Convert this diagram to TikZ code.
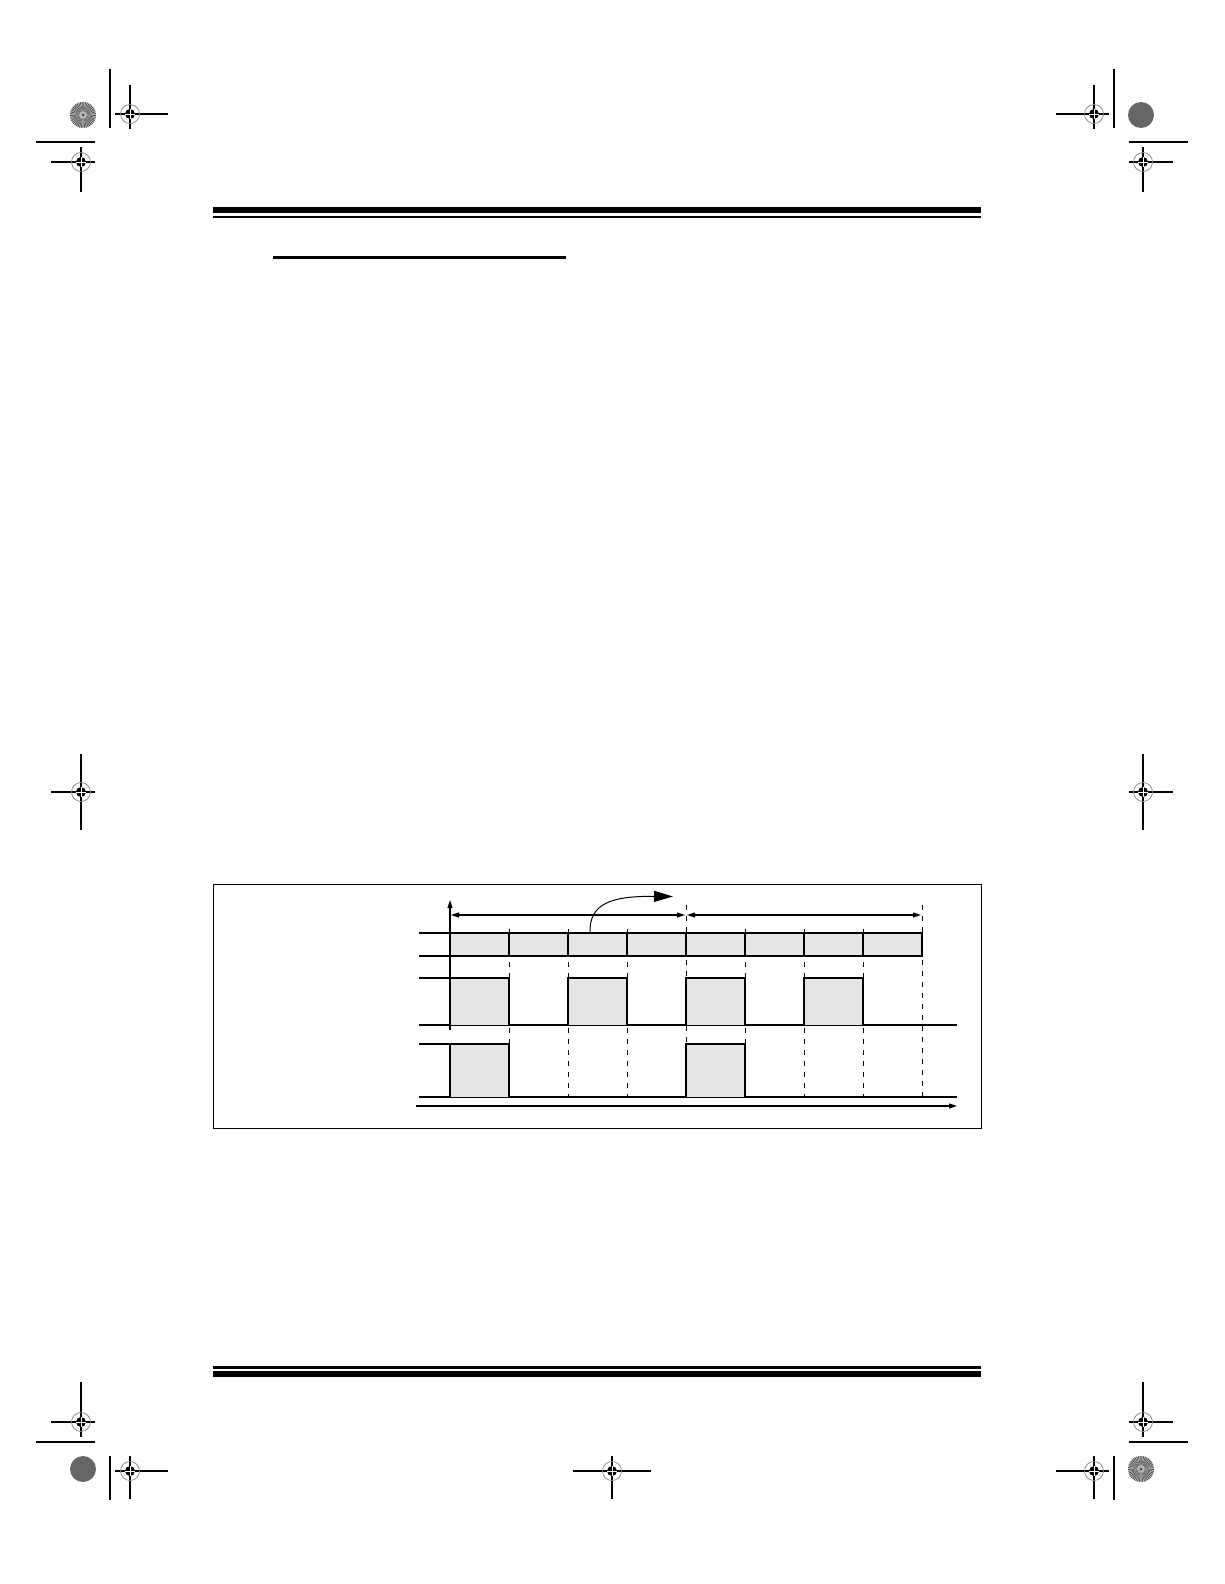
\documentclass[tikz,border=0pt]{standalone}
\usetikzlibrary{arrows.meta}
\newcommand{\regmark}[6]{%
  \draw[line width=1.2] (#1-#3,#2) -- (#1+#4,#2) (#1,#2-#5) -- (#1,#2+#6);
  \draw[gray, line width=0.7] (#1,#2) circle (9.5);
  \fill (#1,#2) circle (5);
  \draw[white, line width=0.7] (#1-5,#2) -- (#1+5,#2) (#1,#2-5) -- (#1,#2+5);
}
\newcommand{\starburst}[2]{%
  \fill[gray!35] (#1,#2) circle (13);
  \foreach \a in {0,8,...,352} \fill[black!70] (#1,#2) -- ++(\a:13) arc[start angle=\a, end angle=\a+4, radius=13] -- cycle;
  \fill[gray!60] (#1,#2) circle (4);
  \fill (#1,#2) circle (1);
}
\newcommand{\darkdisk}[2]{%
  \fill[black!60] (#1,#2) circle (13);
}
\tikzset{
  sig/.style={line width=1.1},
  pulse/.style={line width=1.1, fill=gray!20},
  guide/.style={line width=1, dash pattern=on 5 off 6},
  tick/.style={-{Triangle[length=8,width=5]}},
}
\begin{document}
\begin{tikzpicture}[x=1pt,y=-1pt]
\useasboundingbox (0,0) rectangle (1224,1584);
\fill[white] (0,0) rectangle (1224,1584);
% registration marks
\starburst{83}{115}
\regmark{130}{114}{15}{38}{29}{15}
\draw[line width=1.2] (110,69) -- (110,128);
\regmark{81}{162}{30}{14}{15}{30}
\draw[line width=1.2] (36,142) -- (95,142);
\darkdisk{1141}{115}
\regmark{1094}{114}{38}{15}{29}{15}
\draw[line width=1.2] (1114,69) -- (1114,128);
\regmark{1143}{162}{14}{30}{15}{30}
\draw[line width=1.2] (1129,142) -- (1188,142);
\regmark{81}{792}{30}{14}{38}{38}
\regmark{1143}{792}{14}{30}{38}{38}
\regmark{81}{1422}{30}{14}{40}{15}
\draw[line width=1.2] (36,1442) -- (95,1442);
\darkdisk{83}{1469}
\regmark{130}{1471}{15}{38}{15}{28}
\draw[line width=1.2] (110,1456) -- (110,1500);
\regmark{1143}{1422}{14}{30}{40}{15}
\draw[line width=1.2] (1129,1442) -- (1188,1442);
\starburst{1141}{1469}
\regmark{1094}{1471}{38}{15}{15}{28}
\draw[line width=1.2] (1114,1456) -- (1114,1500);
\regmark{612}{1471}{39}{39}{15}{28}
% header and footer rules
\fill (213,207) rectangle (981,213);
\fill (213,215.5) rectangle (981,217.5);
\fill (273,255.5) rectangle (566,258.5);
\fill (213,1366) rectangle (981,1368.5);
\fill (213,1371) rectangle (981,1377);
% figure frame
\draw[line width=1] (213,884) rectangle (981,1128);
% guides
\foreach \x in {509,568,627,745,804,863} \draw[guide] (\x,929) -- (\x,1097);
\foreach \x in {686,922} \draw[guide] (\x,905) -- (\x,1097);
% top bar
\draw[pulse] (450,933) rectangle (922,956);
\foreach \x in {509,568,627,686,745,804,863} \draw[sig] (\x,933) -- (\x,956);
\draw[sig] (419,933) -- (450,933) (419,956) -- (450,956);
% vertical axis
\draw[sig,-{Triangle[length=8,width=5]}] (450,1030) -- (450,900);
% spans
\draw[sig,{Triangle[length=8,width=5]}-{Triangle[length=8,width=5]}] (451,915) -- (685,915);
\draw[sig,{Triangle[length=8,width=5]}-{Triangle[length=8,width=5]}] (687,915) -- (921,915);
% curved arrow
\draw[line width=1,-{Triangle[length=19,width=11]}] (590,933) .. controls (589,903) and (612,896) .. (673,896.5);
% row 1
\draw[sig] (419,978) -- (450,978);
\draw[sig] (419,1025) -- (957,1025);
\foreach \a/\b in {450/509,568/627,686/745,804/863}
  \draw[pulse] (\a,1025) -- (\a,978) -- (\b,978) -- (\b,1025);
% row 2
\draw[sig] (419,1044) -- (450,1044);
\draw[sig] (419,1097) -- (957,1097);
\foreach \a/\b in {450/509,686/745}
  \draw[pulse] (\a,1097.5) -- (\a,1044) -- (\b,1044) -- (\b,1097.5) -- cycle;
% time axis
\draw[sig,tick] (416,1106) -- (957,1106);
\end{tikzpicture}
\end{document}
